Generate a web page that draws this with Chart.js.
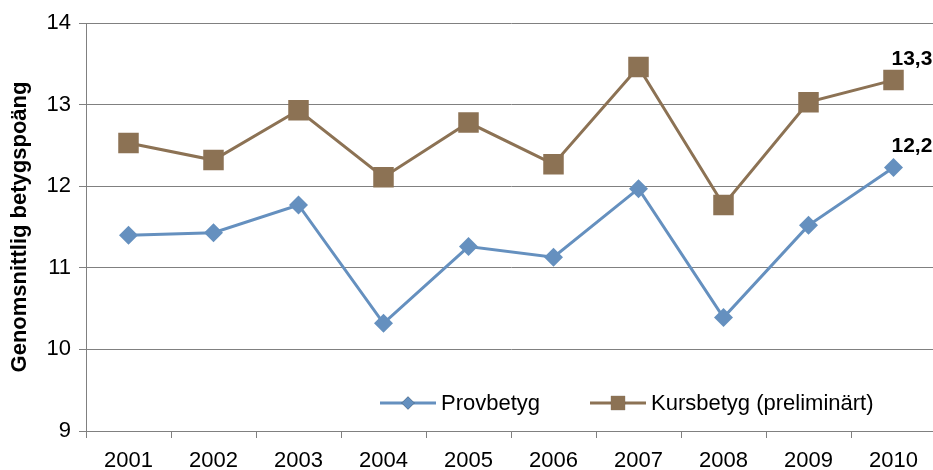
<!DOCTYPE html>
<html>
<head>
<meta charset="utf-8">
<script src="https://cdn.jsdelivr.net/npm/chart.js@4/dist/chart.umd.min.js"></script>
<style>
    html, body { margin: 0; padding: 0; background: #fff; overflow: hidden; }
    #c { display: block; }
</style>
</head>
<body>
<canvas id="c" width="937" height="470"></canvas>
<script>
// ── Data ──
const years      = ['2001', '2002', '2003', '2004', '2005', '2006', '2007', '2008', '2009', '2010'];
const provbetyg  = [11.40, 11.43, 11.77, 10.32, 11.26, 11.13, 11.97, 10.39, 11.52, 12.23];
const kursbetyg  = [12.53, 12.32, 12.93, 12.11, 12.78, 12.27, 13.46, 11.77, 13.03, 13.30];
const yTicks     = [9, 10, 11, 12, 13, 14];

const BLUE  = '#6590bf';
const BROWN = '#8c7254';
const FONT  = '"Liberation Sans", Arial, sans-serif';

// ── Last-point value labels ──
const lastLabels = {
    id: 'lastLabels',
    afterDatasetsDraw(chart) {
        const ctx = chart.ctx;
        ctx.save();
        ctx.font = 'bold 21px ' + FONT;
        ctx.fillStyle = '#000';
        ctx.textAlign = 'left';
        ctx.textBaseline = 'alphabetic';
        chart.data.datasets.forEach((ds, i) => {
            const meta = chart.getDatasetMeta(i);
            const last = meta.data[meta.data.length - 1];
            const v = ds.data[ds.data.length - 1];
            ctx.fillText(v.toFixed(1).replace('.', ','), last.x - 2, last.y - 15);
        });
        ctx.restore();
    }
};

// ── Legend inside plot area ──
const innerLegend = {
    id: 'innerLegend',
    afterDraw(chart) {
        const ctx = chart.ctx;
        const y = 403;
        const starts = [380, 590];
        ctx.save();
        ctx.font = '22px ' + FONT;
        ctx.textBaseline = 'middle';
        chart.data.datasets.forEach((ds, i) => {
            const x0 = starts[i];
            ctx.strokeStyle = ds.borderColor;
            ctx.lineWidth = 3;
            ctx.beginPath();
            ctx.moveTo(x0, y);
            ctx.lineTo(x0 + 56, y);
            ctx.stroke();
            Chart.helpers.drawPoint(ctx, {
                pointStyle: ds.pointStyle,
                radius: ds.pointStyle === 'rect' ? 10 : 6.5,
                borderWidth: 0
            }, x0 + 28, y);
            ctx.fillStyle = ds.borderColor;
            ctx.fill();
            ctx.fillStyle = '#000';
            ctx.fillText(ds.label, x0 + 61, y + 1);
        });
        ctx.restore();
    }
};

new Chart(document.getElementById('c'), {
    type: 'line',
    data: {
        labels: years,
        datasets: [
            {
                label: 'Provbetyg',
                data: provbetyg,
                borderColor: BLUE,
                backgroundColor: BLUE,
                borderWidth: 3,
                pointStyle: 'rectRot',
                pointRadius: 9.5,
                pointBackgroundColor: BLUE,
                pointBorderWidth: 0,
                tension: 0,
                fill: false,
            },
            {
                label: 'Kursbetyg (preliminärt)',
                data: kursbetyg,
                borderColor: BROWN,
                backgroundColor: BROWN,
                borderWidth: 3,
                pointStyle: 'rect',
                pointRadius: 14.5,
                pointBackgroundColor: BROWN,
                pointBorderWidth: 0,
                tension: 0,
                fill: false,
            },
        ],
    },
    options: {
        responsive: false,
        animation: false,
        devicePixelRatio: 1,
        layout: { autoPadding: false, padding: { left: 0, right: 1, top: 23, bottom: 0 } },
        plugins: {
            legend: { display: false },
            tooltip: { enabled: false },
        },
        scales: {
            x: {
                offset: true,
                grid: {
                    offset: true,
                    drawOnChartArea: false,
                    tickLength: 7,
                    color: '#808080',
                },
                border: { color: '#808080', width: 1 },
                ticks: {
                    color: '#000',
                    font: { family: FONT, size: 22 },
                    padding: 10,
                    maxRotation: 0,
                },
                afterFit: (s) => { s.height = 39; },
            },
            y: {
                min: 9,
                max: 14,
                afterBuildTicks: (s) => { s.ticks = yTicks.map(v => ({ value: v })); },
                grid: {
                    color: '#808080',
                    tickLength: 7,
                },
                border: { color: '#808080', width: 1 },
                ticks: {
                    color: '#000',
                    font: { family: FONT, size: 22 },
                    padding: 8,
                },
                title: {
                    display: true,
                    text: 'Genomsnittlig betygspoäng',
                    color: '#000',
                    font: { family: FONT, size: 22, weight: 'bold' },
                    padding: { top: 7, bottom: 0 },
                },
                afterFit: (s) => { s.width = 86; },
            },
        },
    },
    plugins: [lastLabels, innerLegend],
});
</script>
</body>
</html>
